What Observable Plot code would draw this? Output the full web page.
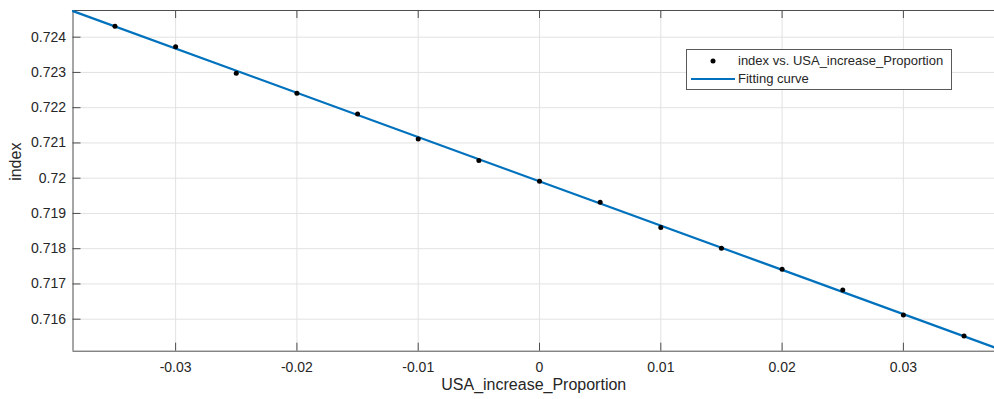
<!DOCTYPE html>
<html>
<head>
<meta charset="utf-8">
<script src="https://cdn.jsdelivr.net/npm/d3@7"></script>
<script src="https://cdn.jsdelivr.net/npm/@observablehq/plot@0.6"></script>
<style>
  html, body { margin: 0; padding: 0; background: #fff; }
  #wrap { position: relative; width: 994px; height: 399px; overflow: hidden; }
  #legend { position: absolute; left: 686px; top: 49px; width: 266px; height: 41px;
    border: 1px solid #595959; background: #fff; font: 13px "Liberation Sans", Arial, sans-serif; color: #262626; box-sizing: border-box; }
  .row { position: absolute; left: 0; height: 18px; line-height: 18px; }
  .row span { position: absolute; left: 51px; white-space: nowrap; }
</style>
</head>
<body>
<div id="wrap">
  <div id="chart"></div>
  <div id="legend">
    <div class="row" style="top:2px"><svg width="50" height="18" style="position:absolute;left:0"><circle cx="26" cy="9" r="2.5" fill="#000"/></svg><span>index vs. USA_increase_Proportion</span></div>
    <div class="row" style="top:20px"><svg width="50" height="18" style="position:absolute;left:0"><line x1="4" x2="48" y1="9" y2="9" stroke="#0072BD" stroke-width="2"/></svg><span>Fitting curve</span></div>
  </div>
</div>
<script>
// Data points
const xs = [-0.035, -0.03, -0.025, -0.02, -0.015, -0.01, -0.005, 0, 0.005, 0.01, 0.015, 0.02, 0.025, 0.03, 0.035];
const ys = [0.72431, 0.72373, 0.72298, 0.72241, 0.72182, 0.72111, 0.72050, 0.71991, 0.71932, 0.71860, 0.71801, 0.71742, 0.71683, 0.71612, 0.71552];
// Fitted line endpoints
const fitX = [-0.03846, 0.03751];
const fitY = [0.72474, 0.71520];
// Ticks
const xTicks = [-0.03, -0.02, -0.01, 0, 0.01, 0.02, 0.03];
const xTickLabels = ["-0.03", "-0.02", "-0.01", "0", "0.01", "0.02", "0.03"];
const yTicks = [0.716, 0.717, 0.718, 0.719, 0.72, 0.721, 0.722, 0.723, 0.724];
const yTickLabels = ["0.716", "0.717", "0.718", "0.719", "0.72", "0.721", "0.722", "0.723", "0.724"];
const xDomain = [-0.03846, 0.03751];
const yDomain = [0.715092, 0.724757];
const xLabel = "USA_increase_Proportion";
const yLabel = "index";

const W = 994, H = 399, mL = 72.5, mR = 0, mT = 10, mB = 48.3;
const pxX = (W - mL - mR) / (xDomain[1] - xDomain[0]);
const pxY = (H - mT - mB) / (yDomain[1] - yDomain[0]);
const tickLen = 8;
const points = xs.map((x, i) => ({x, y: ys[i]}));
const fit = fitX.map((x, i) => ({x, y: fitY[i]}));
const font = '"Liberation Sans", Arial, sans-serif';
const axisColor = "#4d4d4d";
const textColor = "#262626";

const chart = Plot.plot({
  width: W, height: H,
  marginLeft: mL, marginRight: mR, marginTop: mT, marginBottom: mB,
  style: {fontFamily: font, background: "#fff"},
  x: {domain: xDomain, axis: null},
  y: {domain: yDomain, axis: null},
  marks: [
    Plot.ruleX(xTicks, {x: d => d, stroke: "#e2e2e2", strokeWidth: 1}),
    Plot.ruleY(yTicks, {y: d => d, stroke: "#e2e2e2", strokeWidth: 1}),
    // axis lines
    Plot.ruleY([yDomain[0]], {stroke: axisColor}),
    Plot.ruleY([yDomain[1]], {stroke: axisColor}),
    Plot.ruleX([xDomain[0]], {stroke: axisColor}),
    // inward ticks
    Plot.ruleX(xTicks, {x: d => d, y1: yDomain[0], y2: yDomain[0] + tickLen / pxY, stroke: axisColor}),
    Plot.ruleX(xTicks, {x: d => d, y1: yDomain[1], y2: yDomain[1] - tickLen / pxY, stroke: axisColor}),
    Plot.ruleY(yTicks, {y: d => d, x1: xDomain[0], x2: xDomain[0] + tickLen / pxX, stroke: axisColor}),
    // tick labels
    Plot.text(xTicks, {x: d => d, y: yDomain[0], text: (d, i) => xTickLabels[i], dy: 16, fontSize: 14, fill: textColor}),
    Plot.text(yTicks, {x: xDomain[0], y: d => d, text: (d, i) => yTickLabels[i], dx: -7, textAnchor: "end", fontSize: 14, fill: textColor}),
    // axis labels
    Plot.text([xLabel], {frameAnchor: "bottom", text: d => d, dy: 39, fontSize: 16, fill: textColor}),
    Plot.text([yLabel], {frameAnchor: "left", text: d => d, dx: -57, rotate: -90, fontSize: 16, fill: textColor}),
    // data
    Plot.line(fit, {x: "x", y: "y", stroke: "#0072BD", strokeWidth: 2.2}),
    Plot.dot(points, {x: "x", y: "y", r: 2.5, fill: "#000", stroke: "none"})
  ]
});
document.getElementById("chart").appendChild(chart);
</script>
</body>
</html>
